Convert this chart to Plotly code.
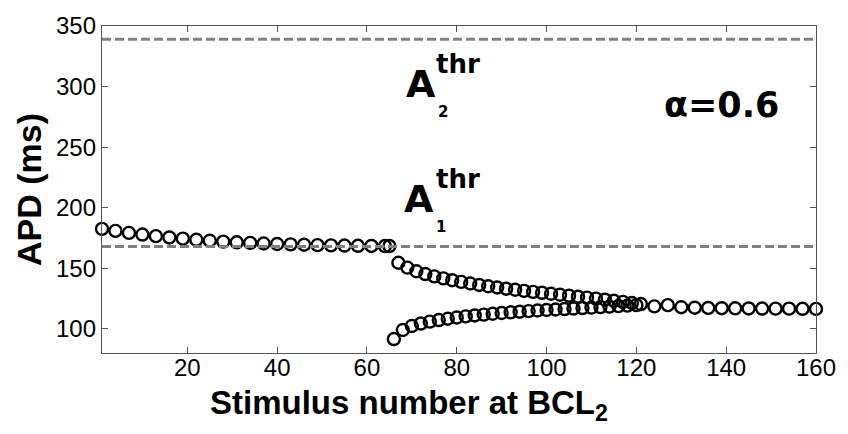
import plotly.graph_objects as go

# ---- data ----
pre_x = [1, 4, 7, 10, 13, 16, 19, 22, 25, 28, 31, 34, 37, 40, 43, 46, 49, 52, 55, 58, 61, 64, 65]
pre_y = [182.5, 180.8, 179.2, 177.8, 176.5, 175.4, 174.4, 173.5, 172.7, 172.0, 171.4, 170.9,
         170.4, 170.0, 169.7, 169.4, 169.1, 168.9, 168.7, 168.5, 168.4, 168.3, 168.3]

up_x = list(range(67, 122, 2))
up_y = [154.5, 150.5, 147.5, 145.2, 143.3, 141.6, 140.1, 138.7, 137.4, 136.2, 135.1, 134.1,
        133.1, 132.2, 131.3, 130.5, 129.7, 128.9, 128.1, 127.3, 126.5, 125.7, 124.9, 124.0,
        123.1, 122.2, 121.3, 120.4]

lo_x = list(range(66, 121, 2))
lo_y = [91.5, 99.0, 102.3, 104.3, 105.9, 107.2, 108.3, 109.3, 110.2, 111.0, 111.7, 112.4,
        113.0, 113.6, 114.1, 114.6, 115.1, 115.5, 115.9, 116.3, 116.7, 117.1, 117.5, 117.9,
        118.3, 118.7, 119.1, 119.5]

post_x = [124, 127, 130, 133, 136, 139, 142, 145, 148, 151, 154, 157, 160]
post_y = [118.5, 119.5, 117.8, 117.4, 117.2, 117.0, 116.9, 116.8, 116.7, 116.6, 116.6, 116.5, 116.4]

thr1 = 168
thr2 = 339
x_range = [1, 160]
y_range = [80, 350]
x_ticks = [20, 40, 60, 80, 100, 120, 140, 160]
y_ticks = [100, 150, 200, 250, 300, 350]

fig = go.Figure()

marker = dict(symbol="circle-open", size=12, color="black", line=dict(color="black", width=2.4))
for xs, ys in [(pre_x, pre_y), (up_x, up_y), (lo_x, lo_y), (post_x, post_y)]:
    fig.add_trace(go.Scatter(x=xs, y=ys, mode="markers", marker=marker, showlegend=False,
                             cliponaxis=False))

for t in (thr1, thr2):
    fig.add_trace(go.Scatter(x=x_range, y=[t, t], mode="lines", showlegend=False,
                             line=dict(color="#808080", width=3, dash="9px,4px")))

axis_common = dict(showline=True, linecolor="#555555", linewidth=1.3, mirror="ticks",
                   ticks="inside", ticklen=6, tickcolor="#555555", tickwidth=1,
                   showgrid=False, zeroline=False,
                   tickfont=dict(family="Liberation Sans, Arial", size=24, color="black"))

fig.update_xaxes(range=x_range, tickvals=x_ticks, ticklabelstandoff=-7, **axis_common)
fig.update_yaxes(range=y_range, tickvals=y_ticks, **axis_common,
                 title=dict(text="<b>APD (ms)</b>",
                            font=dict(family="Liberation Sans, Arial", size=34, color="black"),
                            standoff=4))

# x-axis title (placed as annotation to match the reference's off-centre position)
fig.add_annotation(x=0.4306, y=-0.088, xref="paper", yref="paper",
                   text="<b>Stimulus number at BCL<sub>2</sub></b>", showarrow=False,
                   xanchor="center", yanchor="top",
                   font=dict(family="Liberation Sans, Arial", size=33, color="black"))

ann_font = "DejaVu Sans"
def add_text(x, y, text, size):
    fig.add_annotation(x=x, y=y, xref="x", yref="y", text=f"<b>{text}</b>", showarrow=False,
                       xanchor="center", yanchor="middle",
                       font=dict(family=ann_font, size=size, color="black"))

# A2 threshold label
add_text(72.0, 302.5, "A", 38)
add_text(80.3, 319.0, "thr", 26)
add_text(77.0, 279.0, "2", 15)
# A1 threshold label
add_text(71.7, 207.5, "A", 38)
add_text(80.3, 224.0, "thr", 26)
add_text(76.6, 184.0, "1", 15)
# alpha
add_text(139.0, 284.5, "α=0.6", 35)

fig.update_layout(width=848, height=434, margin=dict(l=102, r=26, t=23, b=81),
                  paper_bgcolor="white", plot_bgcolor="white")

fig.write_html("out.html")
